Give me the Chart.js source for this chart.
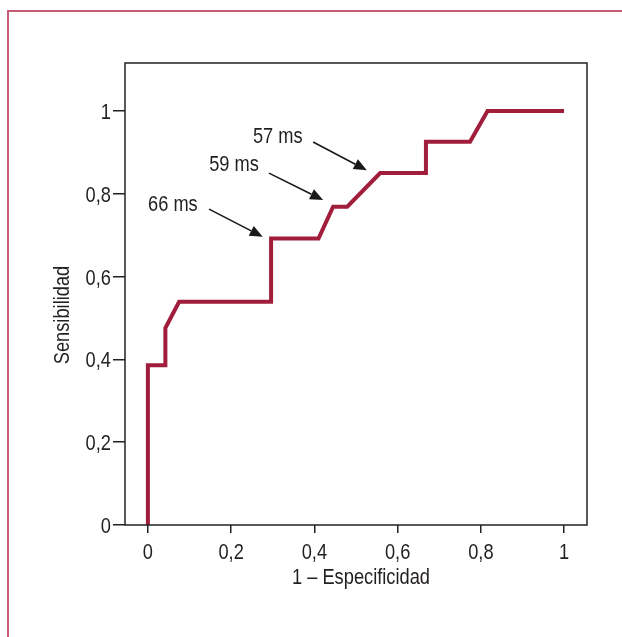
<!DOCTYPE html>
<html>
<head>
<meta charset="utf-8">
<script src="https://cdn.jsdelivr.net/npm/chart.js@4.4.0/dist/chart.umd.min.js"></script>
<style>
  html, body { margin: 0; padding: 0; background: #fff; }
  #wrap { width: 622px; height: 637px; }
</style>
</head>
<body>
<div id="wrap"><canvas id="rocChart" width="622" height="637"></canvas></div>
<script>
// ROC curve points (1 - especificidad, sensibilidad)
var rocX = [0, 0, 0.042, 0.042, 0.075, 0.296, 0.296, 0.41, 0.445, 0.479, 0.558, 0.668, 0.668, 0.774, 0.816, 1];
var rocY = [0, 0.386, 0.386, 0.476, 0.539, 0.539, 0.692, 0.692, 0.769, 0.769, 0.85, 0.85, 0.926, 0.926, 1, 1];

var tickValues = [0, 0.2, 0.4, 0.6, 0.8, 1];

// cut-off labels and their arrows (data units)
var annotLabels = ['57 ms', '59 ms', '66 ms'];
var annotTextX = [0.312, 0.207, 0.060];
var annotTextY = [0.943, 0.874, 0.778];
var arrowFromX = [0.397, 0.291, 0.147];
var arrowFromY = [0.925, 0.850, 0.763];
var arrowToX = [0.526, 0.421, 0.276];
var arrowToY = [0.857, 0.785, 0.696];

// condensed look: Liberation Sans squeezed horizontally
var FONT = "22px 'Liberation Sans', Arial, sans-serif";
var SQUEEZE = 0.83;
var TEXT_COLOR = '#231f20';

function fmt(v) {
	return String(Math.round(v * 10) / 10).replace('.', ',');
}

function narrowText(c, str, x, y, align, rot) {
	c.save();
	c.translate(x, y);
	if (rot) c.rotate(rot);
	c.scale(SQUEEZE, 1);
	c.font = FONT;
	c.fillStyle = TEXT_COLOR;
	c.textAlign = align;
	c.textBaseline = 'alphabetic';
	c.fillText(str, 0, 0);
	c.restore();
}

var extras = {
	id: 'extras',
	beforeDraw: function(chart) {
		var c = chart.ctx;
		c.save();
		c.fillStyle = '#fff';
		c.fillRect(0, 0, chart.width, chart.height);
		// outer frame
		c.strokeStyle = '#c65c76';
		c.lineWidth = 2;
		c.beginPath();
		c.moveTo(8, chart.height);
		c.lineTo(8, 11);
		c.lineTo(chart.width, 11);
		c.stroke();
		c.restore();
	},
	afterDraw: function(chart) {
		var c = chart.ctx;
		var a = chart.chartArea;
		var xs = chart.scales.x, ys = chart.scales.y;
		c.save();
		// plot box
		c.strokeStyle = '#222';
		c.lineWidth = 1.5;
		c.strokeRect(a.left, a.top, a.right - a.left, a.bottom - a.top);
		c.restore();

		// tick labels
		tickValues.forEach(function(v) {
			narrowText(c, fmt(v), a.left - 14, ys.getPixelForValue(v) + 8, 'right');
			narrowText(c, fmt(v), xs.getPixelForValue(v), a.bottom + 33.5, 'center');
		});

		// annotations
		for (var i = 0; i < annotLabels.length; i++) {
			narrowText(c, annotLabels[i], xs.getPixelForValue(annotTextX[i]), ys.getPixelForValue(annotTextY[i]) + 8, 'center');

			var x1 = xs.getPixelForValue(arrowFromX[i]), y1 = ys.getPixelForValue(arrowFromY[i]);
			var x2 = xs.getPixelForValue(arrowToX[i]), y2 = ys.getPixelForValue(arrowToY[i]);
			var ang = Math.atan2(y2 - y1, x2 - x1);
			var headLen = 13, headW = 5.5;
			var bx = x2 - headLen * Math.cos(ang), by = y2 - headLen * Math.sin(ang);
			c.save();
			c.strokeStyle = '#1a1a1a';
			c.lineWidth = 1.6;
			c.beginPath();
			c.moveTo(x1, y1);
			c.lineTo(bx, by);
			c.stroke();
			c.fillStyle = '#1a1a1a';
			c.beginPath();
			c.moveTo(x2, y2);
			c.lineTo(bx + headW * Math.sin(ang), by - headW * Math.cos(ang));
			c.lineTo(bx - headW * Math.sin(ang), by + headW * Math.cos(ang));
			c.closePath();
			c.fill();
			c.restore();
		}

		// axis titles
		narrowText(c, '1 \u2013 Especificidad', (xs.getPixelForValue(0) + xs.getPixelForValue(1)) / 2 + 5, a.bottom + 59, 'center');
		narrowText(c, 'Sensibilidad', a.left - 56.5, ys.getPixelForValue(0.5) - 3, 'center', -Math.PI / 2);
	}
};

var ctx = document.getElementById('rocChart').getContext('2d');
var rocChart = new Chart(ctx, {
	type: 'line',
	data: {
		datasets: [{
			data: rocX.map(function(x, i) { return { x: x, y: rocY[i] }; }),
			borderColor: '#a01d3b',
			borderWidth: 4,
			pointRadius: 0,
			fill: false,
			tension: 0,
			borderJoinStyle: 'miter',
			borderCapStyle: 'butt'
		}]
	},
	options: {
		responsive: false,
		animation: false,
		layout: { padding: { left: 0, top: 63, right: 35, bottom: 0 } },
		plugins: {
			legend: { display: false },
			tooltip: { enabled: false }
		},
		scales: {
			x: {
				type: 'linear',
				min: -0.055,
				max: 1.055,
				afterBuildTicks: function(scale) {
					scale.ticks = tickValues.map(function(v) { return { value: v }; });
				},
				afterFit: function(scale) { scale.height = 112; },
				border: { display: false },
				grid: {
					drawOnChartArea: false,
					drawTicks: true,
					tickLength: 8,
					color: '#222',
					lineWidth: 1.5
				},
				ticks: { display: false }
			},
			y: {
				type: 'linear',
				min: 0,
				max: 1.116,
				afterBuildTicks: function(scale) {
					scale.ticks = tickValues.map(function(v) { return { value: v }; });
				},
				afterFit: function(scale) { scale.width = 125; },
				border: { display: false },
				grid: {
					drawOnChartArea: false,
					drawTicks: true,
					tickLength: 12,
					color: '#222',
					lineWidth: 1.5
				},
				ticks: { display: false }
			}
		}
	},
	plugins: [extras]
});
</script>
</body>
</html>
